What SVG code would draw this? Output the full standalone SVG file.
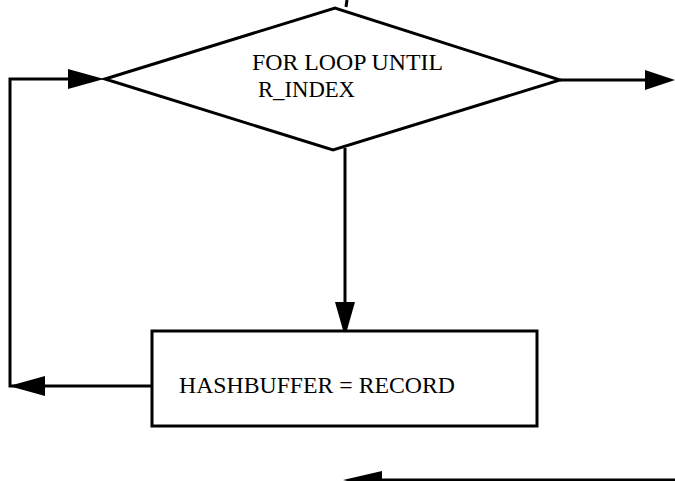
<svg xmlns="http://www.w3.org/2000/svg" width="675" height="481" viewBox="0 0 675 481">
<style>
.ln{fill:none;stroke:#000;stroke-width:3;stroke-linejoin:miter}
.shp{fill:#fff;stroke:#000;stroke-width:3}
.ah{fill:#000;stroke:none}
.t{font-family:"Liberation Serif","Times New Roman",serif;font-size:23px;fill:#000}
</style>
<rect width="675" height="481" fill="#fff"/>
<g id="connectors">
<line class="ln" x1="347" y1="0" x2="346" y2="7" stroke-width="2"/>
<polyline class="ln" points="560,80 646,80"/>
<polygon class="ah" points="675,80 645,70 645,90"/>
<line class="ln" x1="345" y1="148" x2="345" y2="304"/>
<polygon class="ah" points="345,337 335,302 355,302"/>
<polyline class="ln" points="152,386 10,386 10,79 70,79"/>
<polygon class="ah" points="104,79 68,69 68,89"/>
<polygon class="ah" points="9,386 45,376 45,396"/>
<line class="ln" x1="378" y1="480" x2="675" y2="480" stroke-width="2"/>
<polygon class="ah" points="343,480 382,471 382,489"/>
</g>
<g id="decision">
<polygon class="shp" points="105,79 335,8 560,80 333,150"/>
<text class="t" x="252" y="70" textLength="191" lengthAdjust="spacingAndGlyphs">FOR LOOP UNTIL</text>
<text class="t" x="258" y="97" textLength="97" lengthAdjust="spacingAndGlyphs">R_INDEX</text>
</g>
<g id="process">
<rect class="shp" x="152" y="331" width="385" height="95"/>
<text class="t" x="179" y="393" textLength="276" lengthAdjust="spacingAndGlyphs">HASHBUFFER = RECORD</text>
</g>
</svg>
